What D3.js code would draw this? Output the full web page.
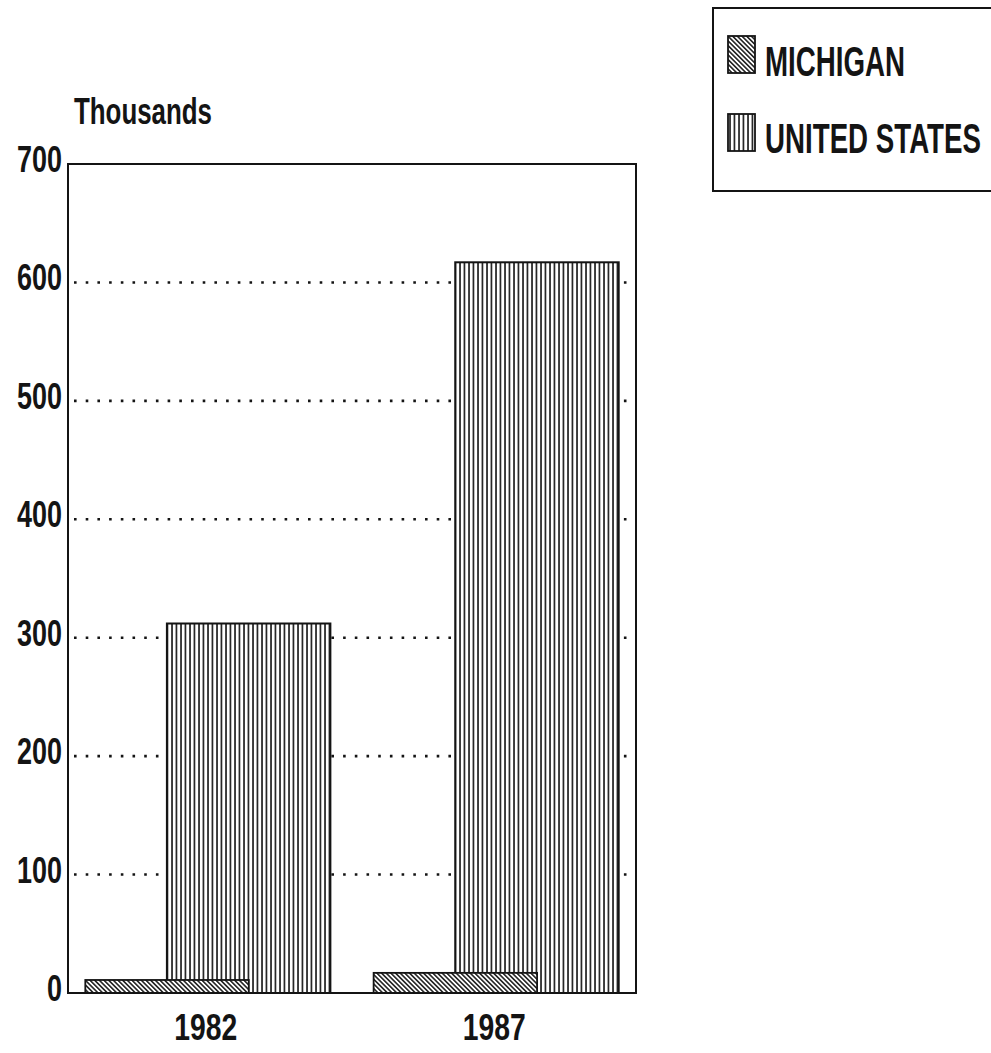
<!DOCTYPE html>
<html>
<head>
<meta charset="utf-8">
<script src="https://cdn.jsdelivr.net/npm/d3@7"></script>
<style>
  html, body { margin: 0; padding: 0; background: #fff; }
  svg { display: block; }
  text { font-family: "Liberation Sans Narrow", "Arial Narrow", "Liberation Sans", Arial, sans-serif; font-weight: bold; fill: #141414; }
</style>
</head>
<body>
<script>
const categories = ["1982", "1987"];
const michigan = [11, 17];
const unitedStates = [312, 617];
const yTicks = [0, 100, 200, 300, 400, 500, 600, 700];
const gridTicks = [100, 200, 300, 400, 500, 600];
const seriesNames = ["MICHIGAN", "UNITED STATES"];
const yTitle = "Thousands";

(function () {
const W = 991, H = 1053;
const svg = d3.select("body").append("svg").attr("width", W).attr("height", H);

const defs = svg.append("defs");
// diagonal hatch "\\\"
const pd = defs.append("pattern").attr("id", "diag").attr("patternUnits", "userSpaceOnUse")
  .attr("width", 3.3).attr("height", 10).attr("patternTransform", "rotate(-45)");
pd.append("rect").attr("width", 3.3).attr("height", 10).attr("fill", "#fff");
pd.append("line").attr("x1", 0.8).attr("x2", 0.8).attr("y1", 0).attr("y2", 10).attr("stroke", "#141414").attr("stroke-width", 1.5);
// vertical hatch
const pv = defs.append("pattern").attr("id", "vert").attr("patternUnits", "userSpaceOnUse")
  .attr("width", 4.5).attr("height", 10);
pv.append("rect").attr("width", 4.5).attr("height", 10).attr("fill", "#fff");
pv.append("line").attr("x1", 1).attr("x2", 1).attr("y1", 0).attr("y2", 10).attr("stroke", "#141414").attr("stroke-width", 1.6);

const pLeft = 68, pRight = 636, pTop = 164, pBottom = 993;
const y = d3.scaleLinear().domain([0, 700]).range([pBottom, pTop]);
const x = d3.scaleBand().domain(categories).range([pLeft, pRight]).paddingInner(0.15).paddingOuter(0.06);

// gridlines
svg.append("g").selectAll("line").data(gridTicks).join("line")
  .attr("x1", pLeft + 6).attr("x2", pRight)
  .attr("y1", d => y(d)).attr("y2", d => y(d))
  .attr("stroke", "#141414").attr("stroke-width", 2.6)
  .attr("stroke-dasharray", "2.6 9.1");

const bw = x.bandwidth();
const barW = bw * 0.667;
// US bars (behind)
svg.append("g").selectAll("rect").data(categories).join("rect")
  .attr("x", d => x(d) + bw - barW)
  .attr("width", barW)
  .attr("y", (d, i) => y(unitedStates[i]))
  .attr("height", (d, i) => y(0) - y(unitedStates[i]))
  .attr("fill", "url(#vert)").attr("stroke", "#141414").attr("stroke-width", 2);
// Michigan bars (front)
svg.append("g").selectAll("rect").data(categories).join("rect")
  .attr("x", d => x(d))
  .attr("width", barW)
  .attr("y", (d, i) => y(michigan[i]))
  .attr("height", (d, i) => y(0) - y(michigan[i]))
  .attr("fill", "url(#diag)").attr("stroke", "#141414").attr("stroke-width", 1.8);

// frame
svg.append("rect").attr("x", pLeft).attr("y", pTop).attr("width", pRight - pLeft).attr("height", pBottom - pTop)
  .attr("fill", "none").attr("stroke", "#141414").attr("stroke-width", 2);

// y tick labels
svg.append("g").selectAll("text").data(yTicks).join("text")
  .attr("x", 62).attr("y", d => y(d) + 8)
  .attr("text-anchor", "end").attr("font-size", 36)
  .attr("textLength", d => String(d).length * 15).attr("lengthAdjust", "spacingAndGlyphs")
  .text(d => d);

// y title
svg.append("text").attr("x", 74).attr("y", 124).attr("font-size", 37)
  .attr("textLength", 138).attr("lengthAdjust", "spacingAndGlyphs").text(yTitle);

// x labels
svg.append("g").selectAll("text").data(categories).join("text")
  .attr("x", d => x(d) + bw / 2 - 2).attr("y", 1040)
  .attr("text-anchor", "middle").attr("font-size", 36)
  .attr("textLength", 63).attr("lengthAdjust", "spacingAndGlyphs")
  .text(d => d);

// legend
const lg = svg.append("g");
lg.append("rect").attr("x", 713).attr("y", 8).attr("width", 300).attr("height", 183)
  .attr("fill", "none").attr("stroke", "#141414").attr("stroke-width", 2);
const legFills = ["url(#diag)", "url(#vert)"];
const legY = [36, 114];
const legW = [140, 216];
const legBase = [76, 153];
seriesNames.forEach((name, i) => {
  lg.append("rect").attr("x", 728).attr("y", legY[i]).attr("width", 27).attr("height", 37)
    .attr("fill", legFills[i]).attr("stroke", "#141414").attr("stroke-width", 1.8);
  lg.append("text").attr("x", 765).attr("y", legBase[i]).attr("font-size", 42)
    .attr("textLength", legW[i]).attr("lengthAdjust", "spacingAndGlyphs").text(name);
});
})();
</script>
</body>
</html>
